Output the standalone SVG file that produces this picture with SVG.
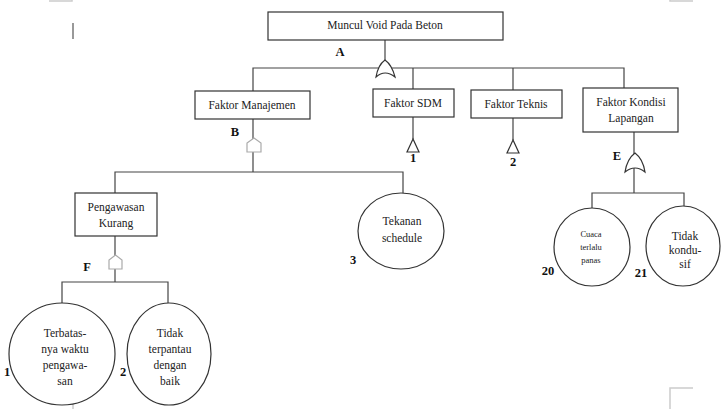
<svg xmlns="http://www.w3.org/2000/svg" width="721" height="409" viewBox="0 0 721 409">
<style>
.box{fill:#fff;stroke:#333;stroke-width:1.2}
.ev{fill:#fff;stroke:#333;stroke-width:1.2}
.ln{fill:none;stroke:#444;stroke-width:1.2}
.gate{fill:#fff;stroke:#333;stroke-width:1.2}
.hgate{fill:#fff;stroke:#aaa;stroke-width:1.2}
.t{font-family:"Liberation Serif",serif;font-size:11.5px;fill:#222;text-anchor:middle}
.s{font-family:"Liberation Serif",serif;font-size:8.5px;fill:#222;text-anchor:middle}
.lb{font-family:"Liberation Serif",serif;font-size:12.5px;font-weight:bold;fill:#111;text-anchor:middle}
.mark{fill:none;stroke:#ccc;stroke-width:1.5}
</style>
<rect width="721" height="409" fill="#fff"/>
<g id="page-marks">
<path class="mark" d="M49,1 H72 V0"/>
<path class="mark" d="M670,0 V1 H693"/>
<path class="mark" d="M693,388 H670 V409"/>
<path class="mark" d="M73,403 V409"/>
<line x1="73" y1="23" x2="73" y2="39" stroke="#555" stroke-width="1.2"/>
</g>
<g id="connectors">
<path class="ln" d="M385,40 V61"/>
<path class="ln" d="M253,91 V68 H624 V88"/>
<path class="ln" d="M413,68 V89"/>
<path class="ln" d="M513,68 V90"/>
<path class="ln" d="M253,119 V172"/>
<path class="ln" d="M115,193 V172 H403 V193"/>
<path class="ln" d="M413,117 V139"/>
<path class="ln" d="M513,118 V140"/>
<path class="ln" d="M634,132 V193"/>
<path class="ln" d="M592,208 V193 H684 V206"/>
<path class="ln" d="M115,236 V282"/>
<path class="ln" d="M62,303 V282 H168 V303"/>
</g>
<g id="gate-A">
<path class="gate" d="M376,77 Q378,65 385,60 Q392,65 395,77 Q385,69 376,77 Z"/>
<text class="lb" x="340" y="56">A</text>
</g>
<g id="gate-B">
<path class="hgate" d="M247,152 V143 L254,138 L261,143 V152 Z"/>
<text class="lb" x="235" y="136">B</text>
</g>
<g id="gate-E">
<path class="gate" d="M625,172 Q627,159 635,153 Q643,159 645,172 Q635,164 625,172 Z"/>
<text class="lb" x="617" y="160">E</text>
</g>
<g id="gate-F">
<path class="hgate" d="M109,269 V260 L115.5,255 L122,260 V269 Z"/>
<text class="lb" x="87" y="271">F</text>
</g>
<g id="transfer-1">
<path class="gate" d="M413,139 L407,152 H419 Z"/>
<text class="lb" x="413" y="162">1</text>
</g>
<g id="transfer-2">
<path class="gate" d="M513,140 L507,153 H519 Z"/>
<text class="lb" x="513" y="166">2</text>
</g>
<g id="top">
<rect class="box" x="268" y="12" width="235" height="28"/>
<text class="t" x="385" y="29">Muncul Void Pada Beton</text>
</g>
<g id="manajemen">
<rect class="box" x="195" y="91" width="115" height="28"/>
<text class="t" x="252" y="109">Faktor Manajemen</text>
</g>
<g id="sdm">
<rect class="box" x="373" y="89" width="81" height="28"/>
<text class="t" x="413" y="107">Faktor SDM</text>
</g>
<g id="teknis">
<rect class="box" x="471" y="90" width="91" height="28"/>
<text class="t" x="516" y="108">Faktor Teknis</text>
</g>
<g id="kondisi">
<rect class="box" x="583" y="88" width="95" height="44"/>
<text class="t" x="631" y="106">Faktor Kondisi</text>
<text class="t" x="631" y="122">Lapangan</text>
</g>
<g id="pengawasan">
<rect class="box" x="75" y="193" width="82" height="43"/>
<text class="t" x="116" y="211">Pengawasan</text>
<text class="t" x="116" y="227">Kurang</text>
</g>
<g id="tekanan">
<ellipse class="ev" cx="401" cy="231" rx="43" ry="38"/>
<text class="t" x="402" y="225">Tekanan</text>
<text class="t" x="402" y="242">schedule</text>
<text class="lb" x="353" y="264">3</text>
</g>
<g id="terbatas">
<ellipse class="ev" cx="62" cy="354" rx="53" ry="51"/>
<text class="t" x="65" y="337">Terbatas-</text>
<text class="t" x="65" y="353">nya waktu</text>
<text class="t" x="65" y="369">pengawa-</text>
<text class="t" x="65" y="385">san</text>
<text class="lb" x="7" y="376">1</text>
</g>
<g id="tidak-terpantau">
<ellipse class="ev" cx="169" cy="354" rx="42" ry="51"/>
<text class="t" x="170" y="337">Tidak</text>
<text class="t" x="170" y="353">terpantau</text>
<text class="t" x="170" y="369">dengan</text>
<text class="t" x="170" y="385">baik</text>
<text class="lb" x="123" y="376">2</text>
</g>
<g id="cuaca">
<ellipse class="ev" cx="592" cy="247" rx="38" ry="39"/>
<text class="s" x="591" y="237">Cuaca</text>
<text class="s" x="591" y="250">terlalu</text>
<text class="s" x="591" y="263">panas</text>
<text class="lb" x="548" y="275">20</text>
</g>
<g id="tidak-kondusif">
<ellipse class="ev" cx="683" cy="246" rx="37" ry="40"/>
<text class="t" x="685" y="240">Tidak</text>
<text class="t" x="685" y="254">kondu-</text>
<text class="t" x="685" y="268">sif</text>
<text class="lb" x="641" y="277">21</text>
</g>
</svg>
